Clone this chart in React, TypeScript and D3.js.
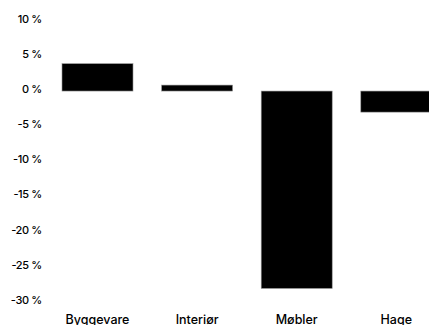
import React from "react";
import * as d3 from "d3";

const categories = ["Byggevare", "Interiør", "Møbler", "Hage"];
const values = [3.9, 0.85, -28.1, -3.0];
const yTicks = [10, 5, 0, -5, -10, -15, -20, -25, -30];

const W = 429;
const H = 325;

export default function App() {
  const y = d3.scaleLinear().domain([10, -30]).range([20.8, 301.8]);
  const x = d3
    .scaleBand<string>()
    .domain(categories)
    .range([47.7, 446.1])
    .paddingInner(0.287)
    .paddingOuter(0.1435);
  const fontFamily = "Inter, 'Noto Sans', sans-serif";
  return (
    <svg
      width={W}
      height={H}
      style={{ position: "absolute", left: 0, top: 0, display: "block" }}
    >
      <rect x={0} y={0} width={W} height={H} fill="#fff" />
      {yTicks.map((t) => (
        <text
          key={t}
          x={41.7}
          y={y(t) - 1.8}
          dy="0.35em"
          textAnchor="end"
          fontSize={11}
          fontWeight={500}
          fontFamily={fontFamily}
          fill="#000"
          letterSpacing="-0.4"
        >
          {`${t} %`}
        </text>
      ))}
      {categories.map((c, i) => {
        const v = values[i];
        const y0 = y(Math.max(0, v));
        const y1 = y(Math.min(0, v));
        return (
          <rect
            key={c}
            x={x(c)}
            y={y0}
            width={x.bandwidth()}
            height={y1 - y0}
            fill="#000"
            stroke="#999"
            strokeWidth={0.6}
          />
        );
      })}
      {categories.map((c) => (
        <text
          key={c}
          x={(x(c) as number) + x.bandwidth() / 2}
          y={324}
          textAnchor="middle"
          fontSize={12.5}
          fontWeight={500}
          fontFamily={fontFamily}
          fill="#000"
        >
          {c}
        </text>
      ))}
    </svg>
  );
}
